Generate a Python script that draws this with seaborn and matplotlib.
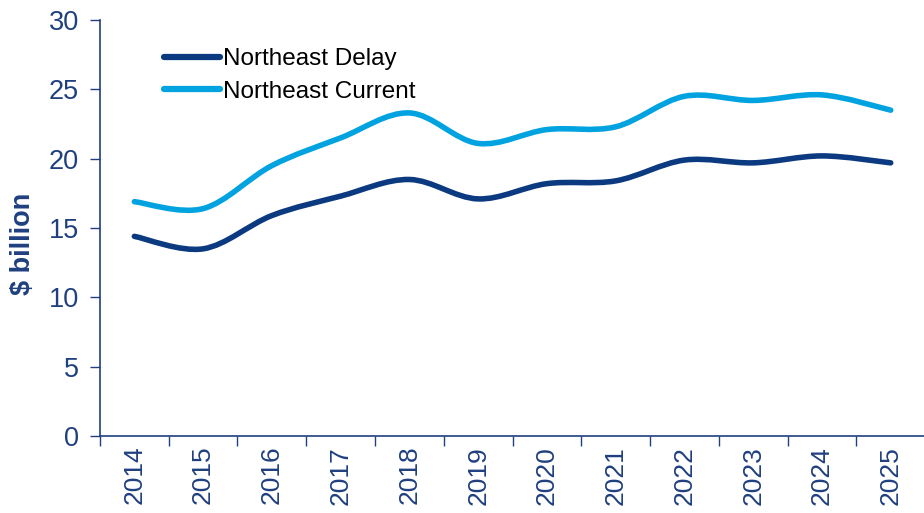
import matplotlib
matplotlib.use('Agg')
import matplotlib.pyplot as plt
import seaborn as sns
import numpy as np
import pandas as pd
from matplotlib.path import Path
from matplotlib.patches import PathPatch

years = ['2014', '2015', '2016', '2017', '2018', '2019',
         '2020', '2021', '2022', '2023', '2024', '2025']
delay = [14.4, 13.5, 15.9, 17.3, 18.5, 17.1, 18.2, 18.4, 19.9, 19.7, 20.2, 19.7]
current = [16.9, 16.4, 19.5, 21.5, 23.3, 21.1, 22.1, 22.3, 24.5, 24.2, 24.6, 23.5]
series_names = ['Northeast Delay', 'Northeast Current']

NAVY = '#0B3A80'
LIGHT = '#00A3E0'
AXIS = '#1F3F7F'

df = pd.DataFrame({
    'pos': list(range(len(years))) * 2,
    'value': delay + current,
    'series': [series_names[0]] * len(years) + [series_names[1]] * len(years),
})

sns.set_style('white')
plt.rcParams['font.family'] = ['Liberation Sans', 'DejaVu Sans']

fig = plt.figure(figsize=(9.24, 5.13), dpi=100)
ax = fig.add_axes([0.1082, 0.150, 0.893, 0.811])

sns.lineplot(data=df, x='pos', y='value', hue='series', hue_order=series_names,
             palette=[NAVY, LIGHT], linewidth=4, ax=ax, legend=True)


def smooth_path(xy):
    # Bezier segments through the points (Catmull-Rom style, like Excel's smoothed lines)
    pts = np.asarray(xy)
    n = len(pts)
    verts = [pts[0]]
    codes = [Path.MOVETO]
    for i in range(n - 1):
        p0 = pts[i - 1] if i > 0 else pts[i]
        p1 = pts[i]
        p2 = pts[i + 1]
        p3 = pts[i + 2] if i + 2 < n else pts[i + 1]
        c1 = p1 + (p2 - p0) / 6.0
        c2 = p2 - (p3 - p1) / 6.0
        verts += [c1, c2, p2]
        codes += [Path.CURVE4] * 3
    return Path(verts, codes)


for ln in list(ax.lines):
    xy = ln.get_xydata()
    if len(xy) < 2:
        continue
    patch = PathPatch(smooth_path(xy), facecolor='none', edgecolor=ln.get_color(),
                      linewidth=4, capstyle='round', joinstyle='round', zorder=3)
    ax.add_patch(patch)
    ln.set_visible(False)

ax.set_xlim(-0.5, len(years) - 0.5)
ax.set_ylim(0, 30)
ax.set_yticks(range(0, 31, 5))
ax.set_xticks(range(len(years)))
ax.set_xticklabels(years, rotation=90)
ax.set_xticks(np.arange(-0.5, len(years) - 0.5, 1.0), minor=True)

ax.tick_params(axis='x', which='major', length=0, labelsize=19, labelcolor=AXIS, pad=7)
ax.tick_params(axis='x', which='minor', length=7, width=1, color=AXIS, direction='out', bottom=True)
ax.tick_params(axis='y', which='major', length=7, width=1, color=AXIS, direction='out',
               labelsize=19.5, labelcolor=AXIS, pad=8, left=True)

for side in ['top', 'right']:
    ax.spines[side].set_visible(False)
for side in ['left', 'bottom']:
    ax.spines[side].set_color(AXIS)
    ax.spines[side].set_linewidth(1.2)

ax.set_xlabel('')
ax.set_ylabel('$ billion', fontsize=19.5, fontweight='bold', color=AXIS)
ax.yaxis.set_label_coords(-0.078, 0.462)

leg = ax.legend(loc='upper left', bbox_to_anchor=(0.066, 0.955), frameon=False,
                fontsize=17.5, handlelength=2.3, handletextpad=0.12, labelspacing=0.42,
                borderaxespad=0)
for h in leg.legend_handles:
    h.set_linewidth(4.5)
    h.set_solid_capstyle('round')
for t in leg.get_texts():
    t.set_color('black')

fig.savefig('out.png', dpi=100)
plt.close(fig)
